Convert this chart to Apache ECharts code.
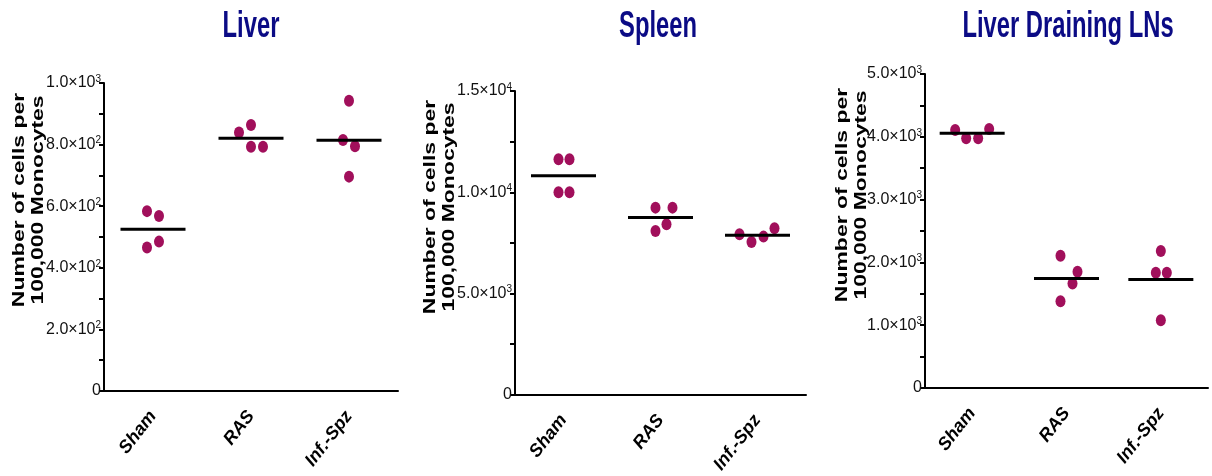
<!DOCTYPE html>
<html>
<head>
<meta charset="utf-8">
<title></title>
<script src="https://cdn.jsdelivr.net/npm/echarts@6/dist/echarts.min.js"></script>
<style type="text/css">
	body{ margin:0; background:#fff; }
	div#main{ width:1212px; height:476px; }
</style>
</head>
<body>
<div id="main"></div>
<script type="text/javascript">
// groups and panel titles
var groups = ['Sham', 'RAS', 'Inf.-Spz'];
var titles = ['Liver', 'Spleen', 'Liver Draining LNs'];

// values, 4 animals per group
var liverSham = [584, 568, 485, 466];
var liverRAS = [839, 864, 793, 793];
var liverInf = [942, 815, 795, 696];
var liverMean = [525, 821, 814];

var spleenSham = [11630, 11630, 10000, 10000];
var spleenRAS = [9243, 9243, 8420, 8092];
var spleenInf = [7928, 7549, 7812, 8224];
var spleenMean = [10822, 8750, 7878];

var lnSham = [4110, 3977, 3977, 4126];
var lnRAS = [2105, 1850, 1665, 1383];
var lnInf = [2180, 1835, 1835, 1080];
var lnMean = [4057, 1745, 1729];

// y axis ranges / tick steps
var yMax = [1000, 15000, 5000];
var yStep = [200, 5000, 1000];

// horizontal scatter of dots inside a group (px), same order as the values
var jitter = [
	[[-6, 6, 6, -6], [-12, 0, 0, 12], [0, -6, 6, 0]],
	[[-5, 6, -5, 6], [-5, 12, 6, -5], [-18, -6, 6, 17]],
	[[-17, -6, 6, 17], [-6, 11, 6, -6], [0, -5, 6, 0]]
];

var panels = [
	{vals: [liverSham, liverRAS, liverInf], mean: liverMean},
	{vals: [spleenSham, spleenRAS, spleenInf], mean: spleenMean},
	{vals: [lnSham, lnRAS, lnInf], mean: lnMean}
];

var grids = [
	{left: 104, top: 83, width: 294, height: 308},
	{left: 515, top: 91, width: 291, height: 304},
	{left: 925, top: 74, width: 283, height: 314}
];
var titleX = [251, 658, 1068];
var nameX = [29, 440, 852];
var nameY = [200, 207, 195];

var dotColor = '#a10f5b';
var sans = '"Liberation Sans", Arial, sans-serif';

function sciLabel(v) {
	if (v === 0) return '0';
	var e = Math.floor(Math.log10(v));
	var m = v / Math.pow(10, e);
	return m.toFixed(1) + '×10{s|' + e + '}';
}

var option = {
	animation: false,
	backgroundColor: '#ffffff',
	grid: grids,
	xAxis: [],
	yAxis: [],
	series: [],
	graphic: []
};

for (var p = 0; p < 3; p++) {
	option.xAxis.push({
		type: 'category',
		gridIndex: p,
		data: groups,
		boundaryGap: true,
		axisLine: {lineStyle: {color: '#000', width: 2}},
		axisTick: {alignWithLabel: true, length: 5, lineStyle: {color: '#000', width: 2}},
		axisLabel: {
			rotate: 52, margin: 22, color: '#000',
			fontSize: 18, fontWeight: 'bold', fontStyle: 'italic',
			fontFamily: sans
		},
		splitLine: {show: false}
	});
	option.yAxis.push({
		type: 'value',
		gridIndex: p,
		min: 0, max: yMax[p], interval: yStep[p],
		axisLine: {show: true, lineStyle: {color: '#000', width: 2}},
		axisTick: {show: true, length: 5, lineStyle: {color: '#000', width: 2}},
		minorTick: {show: true, splitNumber: 2, length: 5, lineStyle: {color: '#000', width: 2}},
		splitLine: {show: false},
		axisLabel: {
			margin: 3, color: '#111', fontSize: 16, fontFamily: sans,
			formatter: sciLabel,
			rich: {s: {fontSize: 10, fontFamily: sans, color: '#111', verticalAlign: 'top', lineHeight: 18}}
		}
	});

	// dots
	var dots = [];
	for (var g = 0; g < 3; g++) {
		var arr = panels[p].vals[g];
		for (var k = 0; k < arr.length; k++) {
			dots.push({value: [g, arr[k]], symbolOffset: [jitter[p][g][k], 0]});
		}
	}
	option.series.push({
		type: 'scatter',
		xAxisIndex: p, yAxisIndex: p,
		symbol: 'circle',
		symbolSize: [10, 12],
		itemStyle: {color: dotColor, opacity: 1},
		data: dots,
		z: 3
	});
	// mean line
	option.series.push({
		type: 'scatter',
		xAxisIndex: p, yAxisIndex: p,
		symbol: 'rect',
		symbolSize: [65, 3],
		itemStyle: {color: '#000', opacity: 1},
		data: panels[p].mean.map(function (m, i) { return [i, m]; }),
		z: 4
	});

	// panel title (the original is condensed, so squeeze it)
	option.graphic.push({
		type: 'text',
		x: titleX[p], y: 27,
		scaleX: 0.66,
		style: {
			text: titles[p],
			align: 'center', verticalAlign: 'middle',
			font: 'bold 36px "Liberation Sans", Arial, sans-serif',
			fill: '#0b0b85'
		}
	});
	// y axis name, stretched along its length like the original
	option.graphic.push({
		type: 'text',
		x: nameX[p], y: nameY[p],
		rotation: Math.PI / 2,
		scaleX: 1.35,
		style: {
			text: 'Number of cells per\n100,000 Monocytes',
			align: 'center', verticalAlign: 'middle',
			font: 'bold 17px "Liberation Sans", Arial, sans-serif',
			lineHeight: 19,
			fill: '#000'
		}
	});
}

var myChart = echarts.init(document.getElementById('main'));
myChart.setOption(option);
</script>
</body>
</html>
